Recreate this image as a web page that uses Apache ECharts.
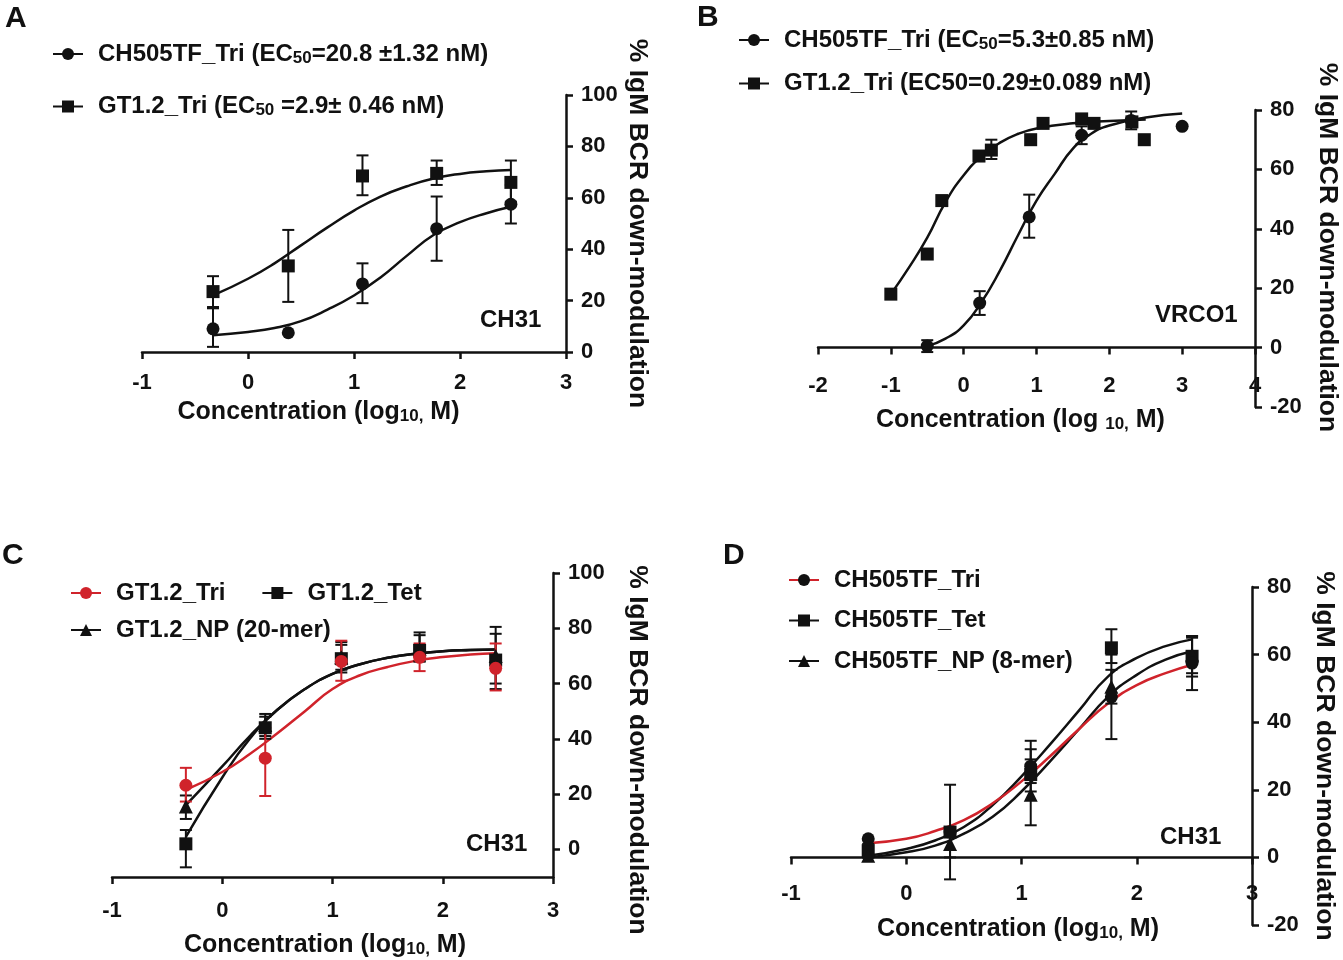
<!DOCTYPE html>
<html>
<head>
<meta charset="utf-8">
<script src="https://cdn.jsdelivr.net/npm/echarts@6/dist/echarts.min.js"></script>
<style>
  html, body { margin: 0; background: #fff; }
  #chart { width: 1343px; height: 960px; }
</style>
</head>
<body>
<div id="chart"></div>
<script>
// ---- panel A (CH31) ----
const doseA = [-0.33, 0.38, 1.08, 1.78, 2.48];
const triA = [9, 7.5, 26.5, 48, 57.5];
const triALo = [2, 7.5, 19, 35.5, 50];
const triAHi = [17, 7.5, 34.5, 60.5, 65];
const gtA = [23.5, 33.5, 68.5, 69.5, 66];
const gtALo = [17.5, 19.5, 61, 65, 58.5];
const gtAHi = [29.5, 47.5, 76.5, 74.5, 74.5];
const fitXA = [-0.33, 0, 0.25, 0.5, 0.75, 1, 1.25, 1.5, 1.75, 2, 2.25, 2.48];
const triAFit = [6.5, 7.8, 9.3, 12, 16.5, 22, 29, 37.5, 45.5, 50.5, 54, 56.5];
const gtAFit = [22, 28.5, 34.5, 41.5, 48.5, 55, 60.5, 64.5, 67.5, 69.3, 70.3, 70.8];

// ---- panel B (VRC01) ----
const doseBTri = [-0.5, 0.22, 0.9, 1.62, 2.3, 3.0];
const triB = [0.5, 15, 44, 71.5, 76.5, 74.5];
const triBLo = [-1.5, 11, 37, 68.5, 73.5, 74.5];
const triBHi = [2.5, 19, 51.5, 74.5, 79.5, 74.5];
const doseBGt = [-1.0, -0.5, -0.3, 0.21, 0.38, 0.92, 1.09, 1.62, 1.79, 2.31, 2.48];
const gtB = [18, 31.5, 49.5, 64.5, 66.5, 70, 75.5, 77, 75.5, 76, 70];
const gtBLo = [18, 31.5, 49.5, 64.5, 63.5, 70, 75.5, 77, 75.5, 76, 70];
const gtBHi = [18, 31.5, 49.5, 64.5, 70, 70, 75.5, 77, 75.5, 76, 70];
const fitXBTri = [-0.5, -0.25, 0, 0.25, 0.5, 0.75, 1, 1.25, 1.5, 1.75, 2, 2.5, 3];
const triBFit = [0.5, 3, 7.5, 15.5, 26, 38, 49.5, 58.5, 67, 72, 74.8, 77.5, 78.8];
const fitXBGt = [-1, -0.75, -0.5, -0.25, 0, 0.25, 0.5, 0.75, 1, 1.5, 2, 2.5];
const gtBFit = [18, 27, 37, 49, 58, 64.5, 69, 72, 73.8, 75.5, 76.3, 76.8];

// ---- panel C (GT1.2 valency, CH31) ----
const doseC = [-0.33, 0.39, 1.08, 1.79, 2.48];
const triC = [23.2, 33, 68, 69.5, 65.5];
const triCLo = [17.3, 19.3, 61, 64.5, 57.5];
const triCHi = [29.5, 44, 75.5, 74.5, 74.5];
const tetC = [2, 44, 69, 72, 68.5];
const tetCLo = [-6.5, 40, 64, 68, 58];
const tetCHi = [7, 48, 75, 77.5, 78];
const npC = [15.5, 45, 69.5, 72.5, 70];
const npCLo = [11, 41, 65, 68, 60];
const npCHi = [19.5, 49, 74, 78.5, 80.5];
const fitXC = [-0.33, 0, 0.25, 0.5, 0.75, 1, 1.25, 1.5, 1.75, 2, 2.25, 2.48];
const triCFit = [21.5, 28, 34.5, 42, 50, 58, 63, 66, 68.2, 69.6, 70.5, 71];
const tetCFit = [4.5, 26, 40, 50.5, 58, 63.5, 67, 69.3, 70.8, 71.7, 72.1, 72.3];
const npCFit = [16, 30, 41, 50.5, 58, 63.5, 67, 69.3, 70.8, 71.7, 72.1, 72.3];

// ---- panel D (CH505TF valency, CH31) ----
const doseD = [-0.33, 0.38, 1.08, 1.78, 2.48];
const triD = [5.5, 7.5, 27, 47.5, 57.5];
const triDLo = [5.5, 7.5, 22, 35, 49.5];
const triDHi = [5.5, 7.5, 32, 60, 65.5];
const tetD = [2, 7.5, 24.5, 62, 59.5];
const tetDLo = [0, -6.5, 19.5, 57.5, 53.5];
const tetDHi = [4, 21.5, 34.5, 67.5, 65.5];
const npD = [0.5, 4, 18.5, 50.5, 60];
const npDLo = [0, 0, 9.5, 45.5, 54.5];
const npDHi = [1, 8, 29, 55.5, 65];
const fitXD = [-0.33, 0, 0.25, 0.5, 0.75, 1, 1.25, 1.5, 1.75, 2, 2.25, 2.48];
const triDFit = [4.2, 5.5, 7.8, 11, 16, 22.5, 30, 38, 45.5, 51, 54.5, 57];
const tetDFit = [0.5, 2.5, 5, 9, 15.5, 24, 33.5, 43.5, 53.5, 59, 62.5, 64.5];
const npDFit = [0, 1.5, 3.5, 7, 12, 19.5, 28.5, 38, 47.5, 54, 58.5, 61];

const FONT = '"Liberation Sans", Arial, sans-serif';
const INK = '#111';
const RED = '#d0232b';

const zip = (xs, ys) => xs.map((x, i) => [x, ys[i]]);
const spans = (xs, lo, hi) => xs.map((x, i) => [x, lo[i], hi[i]]).filter(d => d[2] > d[1]);

function errorBar(params, api) {
  const x = api.value(0);
  const top = api.coord([x, api.value(2)]);
  const bot = api.coord([x, api.value(1)]);
  const w = 6;
  const style = { stroke: api.visual('color'), lineWidth: 2 };
  return {
    type: 'group',
    children: [
      { type: 'line', shape: { x1: top[0], y1: top[1], x2: bot[0], y2: bot[1] }, style },
      { type: 'line', shape: { x1: top[0] - w, y1: top[1], x2: top[0] + w, y2: top[1] }, style },
      { type: 'line', shape: { x1: bot[0] - w, y1: bot[1], x2: bot[0] + w, y2: bot[1] }, style }
    ]
  };
}

// fitted curve + error bars + points for one group
function group(p, name, fitX, fit, dose, y, lo, hi, symbol, lineColor, markColor, barColor) {
  return [
    {
      name, type: 'line', xAxisIndex: p, yAxisIndex: p,
      data: zip(fitX, fit), smooth: true, showSymbol: false,
      symbol, symbolSize: 12, color: markColor,
      lineStyle: { color: lineColor, width: 2.5 }, z: 2, silent: true
    },
    {
      name: name + ' err', type: 'custom', xAxisIndex: p, yAxisIndex: p,
      data: spans(dose, lo, hi), renderItem: errorBar,
      itemStyle: { color: barColor }, encode: { x: 0, y: [1, 2] }, z: 3, silent: true
    },
    {
      name: name + ' pts', type: 'scatter', xAxisIndex: p, yAxisIndex: p,
      data: zip(dose, y), symbol, symbolSize: symbol === 'triangle' ? 14 : 13,
      itemStyle: { color: markColor, opacity: 1 }, z: 4, silent: true
    }
  ];
}

const axisText = { color: INK, fontFamily: FONT, fontWeight: 'bold', fontSize: 22 };
const subRich = { s: { fontFamily: FONT, fontWeight: 'bold', fontSize: 17, color: INK, verticalAlign: 'bottom', lineHeight: 24 } };

function xAxis(p, min, max, labelGap, gap, shiftPad, label) {
  const shown = label !== null;
  return {
    gridIndex: p, type: 'value', min, max, interval: 1, show: shown,
    axisLine: { show: true, onZero: false, lineStyle: { color: INK, width: 2.5 } },
    axisTick: { show: true, length: 7, lineStyle: { color: INK, width: 2.5 } },
    splitLine: { show: false },
    axisLabel: Object.assign({ margin: labelGap }, axisText),
    name: shown ? label : '', nameLocation: 'middle', nameGap: gap,
    nameTextStyle: { color: INK, fontFamily: FONT, fontWeight: 'bold', fontSize: 25, padding: [0, shiftPad, 0, 0], rich: subRich }
  };
}

function yAxis(p, min, max, ticks, gap, pad) {
  return {
    gridIndex: p, type: 'value', position: 'right', min, max,
    axisLine: { show: true, onZero: false, lineStyle: { color: INK, width: 2.5 } },
    axisTick: { show: true, length: 7, customValues: ticks, lineStyle: { color: INK, width: 2.5 } },
    splitLine: { show: false },
    axisLabel: Object.assign({ margin: 15, customValues: ticks }, axisText),
    name: '% IgM BCR down-modulation', nameLocation: 'middle', nameRotate: -90, nameGap: gap,
    nameTextStyle: { color: INK, fontFamily: FONT, fontWeight: 'bold', fontSize: 26.5, padding: pad }
  };
}

const legendLabels = {
  'CH505TF_Tri (EC50=20.8 ±1.32 nM)': 'CH505TF_Tri (EC{s|50}=20.8 ±1.32 nM)',
  'GT1.2_Tri (EC50=2.9± 0.46 nM)': 'GT1.2_Tri (EC{s|50} =2.9± 0.46 nM)',
  'CH505TF_Tri (EC50=5.3±0.85 nM)': 'CH505TF_Tri (EC{s|50}=5.3±0.85 nM)'
};

function legend(names, left, top, orient, gap) {
  return {
    data: names, left, top, orient, itemGap: gap, padding: 0,
    itemWidth: 30, itemHeight: 15, selectedMode: false,
    formatter: n => legendLabels[n] || n,
    textStyle: {
      color: INK, fontFamily: FONT, fontWeight: 'bold', fontSize: 24, padding: [0, 0, 0, 10],
      rich: { s: { fontFamily: FONT, fontWeight: 'bold', fontSize: 17, color: INK, verticalAlign: 'bottom', lineHeight: 25 } }
    }
  };
}

const xName = 'Concentration (log{s|10,} M)';
const xNameB = 'Concentration (log {s|10,} M)';
const yTicks = [0, 20, 40, 60, 80, 100];
const yTicksB = [-20, 0, 20, 40, 60, 80];

const tA1 = 'CH505TF_Tri (EC50=20.8 ±1.32 nM)';
const tA2 = 'GT1.2_Tri (EC50=2.9± 0.46 nM)';
const tB1 = 'CH505TF_Tri (EC50=5.3±0.85 nM)';
const tB2 = 'GT1.2_Tri (EC50=0.29±0.089 nM)';

const label = (text, left, top, size) => ({
  type: 'text', left, top,
  style: { text, fill: INK, font: 'bold ' + size + 'px ' + FONT }
});

// grids 0-3 hold the data; grids 4-5 carry the x axes of B and D, which sit at y = 0
const option = {
  backgroundColor: '#fff',
  animation: false,
  grid: [
    { left: 142, top: 95, width: 424, height: 257, outerBoundsMode: 'none' },
    { left: 818, top: 110, width: 437, height: 297, outerBoundsMode: 'none' },
    { left: 112, top: 573, width: 441, height: 304, outerBoundsMode: 'none' },
    { left: 791, top: 587, width: 461, height: 338, outerBoundsMode: 'none' },
    { left: 818, top: 110, width: 437, height: 237.6, outerBoundsMode: 'none' },
    { left: 791, top: 587, width: 461, height: 270.4, outerBoundsMode: 'none' }
  ],
  xAxis: [
    xAxis(0, -1, 3, 20, 48, 71, xName),
    xAxis(1, -2, 4, 0, 0, 0, null),
    xAxis(2, -1, 3, 23, 56, 15, xName),
    xAxis(3, -1, 3, 0, 0, 0, null),
    xAxis(4, -2, 4, 27, 60, 32, xNameB),
    xAxis(5, -1, 3, 26, 59, 7, xName)
  ],
  yAxis: [
    yAxis(0, 0, 100, yTicks, 58, [0, 0, 0, 0]),
    yAxis(1, -20, 80, yTicksB, 59, [0, 22, 0, 0]),
    yAxis(2, -10, 100, yTicks, 71, [0, 0, 0, 50]),
    yAxis(3, -20, 80, yTicksB, 59, [0, 0, 0, 0]),
    { gridIndex: 4, type: 'value', min: 0, max: 80, show: false },
    { gridIndex: 5, type: 'value', min: 0, max: 80, show: false }
  ],
  legend: [
    legend([tA1, tA2], 52, 42, 'vertical', 28),
    legend([tB1, tB2], 738, 28, 'vertical', 19),
    legend(['GT1.2_Tri', 'GT1.2_Tet'], 70, 581, 'horizontal', 36),
    legend(['GT1.2_NP (20-mer)'], 70, 618, 'horizontal', 10),
    legend(['CH505TF_Tri', 'CH505TF_Tet', 'CH505TF_NP (8-mer)'], 788, 568, 'vertical', 16.5)
  ],
  graphic: [
    label('A', 5, 4, 30),
    label('B', 697, 3, 30),
    label('C', 2, 541, 30),
    label('D', 723, 541, 30),
    label('CH31', 480, 308, 24),
    label('VRCO1', 1155, 303, 24),
    label('CH31', 466, 832, 24),
    label('CH31', 1160, 825, 24)
  ],
  series: [
    ...group(0, tA1, fitXA, triAFit, doseA, triA, triALo, triAHi, 'circle', INK, INK, INK),
    ...group(0, tA2, fitXA, gtAFit, doseA, gtA, gtALo, gtAHi, 'rect', INK, INK, INK),
    ...group(1, tB1, fitXBTri, triBFit, doseBTri, triB, triBLo, triBHi, 'circle', INK, INK, INK),
    ...group(1, tB2, fitXBGt, gtBFit, doseBGt, gtB, gtBLo, gtBHi, 'rect', INK, INK, INK),
    ...group(2, 'GT1.2_Tet', fitXC, tetCFit, doseC, tetC, tetCLo, tetCHi, 'rect', INK, INK, INK),
    ...group(2, 'GT1.2_NP (20-mer)', fitXC, npCFit, doseC, npC, npCLo, npCHi, 'triangle', INK, INK, INK),
    ...group(2, 'GT1.2_Tri', fitXC, triCFit, doseC, triC, triCLo, triCHi, 'circle', RED, RED, RED),
    ...group(3, 'CH505TF_Tet', fitXD, tetDFit, doseD, tetD, tetDLo, tetDHi, 'rect', INK, INK, INK),
    ...group(3, 'CH505TF_NP (8-mer)', fitXD, npDFit, doseD, npD, npDLo, npDHi, 'triangle', INK, INK, INK),
    ...group(3, 'CH505TF_Tri', fitXD, triDFit, doseD, triD, triDLo, triDHi, 'circle', RED, INK, INK)
  ]
};

const chart = echarts.init(document.getElementById('chart'));
chart.setOption(option);
</script>
</body>
</html>
